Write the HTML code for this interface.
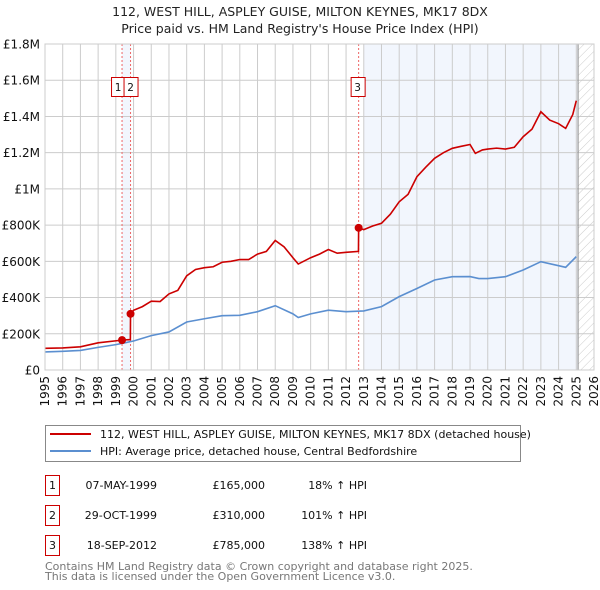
<!DOCTYPE html>
<html><head><meta charset="utf-8"><style>
body{margin:0;background:#fff;font-family:"DejaVu Sans","Liberation Sans",sans-serif;}
svg{display:block}
</style></head><body>
<svg id="c" width="600" height="590" xmlns="http://www.w3.org/2000/svg" font-family="DejaVu Sans, Liberation Sans, sans-serif">
<text x="300" y="16" text-anchor="middle" font-size="12.5" fill="#222">112, WEST HILL, ASPLEY GUISE, MILTON KEYNES, MK17 8DX</text>
<text x="300" y="33" text-anchor="middle" font-size="12.5" fill="#222">Price paid vs. HM Land Registry's House Price Index (HPI)</text>
<defs><pattern id="hatch" width="6" height="6" patternUnits="userSpaceOnUse" patternTransform="rotate(45)"><line x1="0" y1="0" x2="0" y2="6" stroke="#ccc" stroke-width="1"/></pattern></defs>
<g id="plot"></g>
<g>
<rect x="45.5" y="425.5" width="475" height="36" fill="#fff" stroke="#888"/>
<line x1="50" y1="434" x2="91" y2="434" stroke="#cc0000" stroke-width="2"/>
<text x="100" y="438" font-size="11" fill="#111">112, WEST HILL, ASPLEY GUISE, MILTON KEYNES, MK17 8DX (detached house)</text>
<line x1="50" y1="451" x2="91" y2="451" stroke="#5b8fd0" stroke-width="2"/>
<text x="100" y="455" font-size="11" fill="#111">HPI: Average price, detached house, Central Bedfordshire</text>
</g>
<g font-size="11" fill="#111">
<rect x="45.5" y="475.5" width="14" height="20" fill="none" stroke="#cc0000"/><text x="52.5" y="489" text-anchor="middle">1</text>
<text x="157" y="489" text-anchor="end">07-MAY-1999</text><text x="265" y="489" text-anchor="end">£165,000</text><text x="367" y="489" text-anchor="end">18% ↑ HPI</text>
<rect x="45.5" y="505.5" width="14" height="20" fill="none" stroke="#cc0000"/><text x="52.5" y="519" text-anchor="middle">2</text>
<text x="157" y="519" text-anchor="end">29-OCT-1999</text><text x="265" y="519" text-anchor="end">£310,000</text><text x="367" y="519" text-anchor="end">101% ↑ HPI</text>
<rect x="45.5" y="535.5" width="14" height="20" fill="none" stroke="#cc0000"/><text x="52.5" y="549" text-anchor="middle">3</text>
<text x="157" y="549" text-anchor="end">18-SEP-2012</text><text x="265" y="549" text-anchor="end">£785,000</text><text x="367" y="549" text-anchor="end">138% ↑ HPI</text>
</g>
<text x="45" y="570" font-size="11" fill="#777">Contains HM Land Registry data © Crown copyright and database right 2025.</text>
<text x="45" y="580" font-size="11" fill="#777">This data is licensed under the Open Government Licence v3.0.</text>
</svg>
<script>
const yTicks=[0,200000,400000,600000,800000,1000000,1200000,1400000,1600000,1800000];
const yTickLabels=["£0","£200K","£400K","£600K","£800K","£1M","£1.2M","£1.4M","£1.6M","£1.8M"];
const xYears=[1995,1996,1997,1998,1999,2000,2001,2002,2003,2004,2005,2006,2007,2008,2009,2010,2011,2012,2013,2014,2015,2016,2017,2018,2019,2020,2021,2022,2023,2024,2025,2026];
const priceT=[1995,1996,1997,1998,1999.35,1999.82,1999.83,2000,2000.5,2001,2001.5,2002,2002.5,2003,2003.5,2004,2004.5,2005,2005.5,2006,2006.5,2007,2007.5,2008,2008.5,2009,2009.3,2010,2010.5,2011,2011.5,2012,2012.7,2012.71,2013,2013.5,2014,2014.5,2015,2015.5,2016,2016.5,2017,2017.5,2018,2018.5,2019,2019.3,2019.7,2020,2020.5,2021,2021.5,2022,2022.5,2023,2023.5,2024,2024.4,2024.8,2025];
const priceV=[120000,122000,128000,150000,165000,168000,310000,330000,350000,380000,378000,420000,440000,520000,555000,565000,570000,595000,600000,610000,610000,640000,655000,715000,680000,620000,585000,620000,640000,665000,645000,650000,655000,785000,775000,795000,810000,860000,929000,970000,1067000,1120000,1169000,1200000,1224000,1235000,1245000,1196000,1215000,1220000,1225000,1220000,1230000,1288000,1330000,1426000,1380000,1360000,1334000,1410000,1487000];
const hpiT=[1995,1996,1997,1998,1999,2000,2001,2002,2003,2004,2005,2006,2007,2008,2009,2009.3,2010,2011,2012,2013,2014,2015,2016,2017,2018,2019,2019.5,2020,2021,2022,2023,2024,2024.4,2025];
const hpiV=[100000,103000,108000,125000,140000,160000,190000,210000,265000,283000,300000,302000,322000,355000,310000,290000,310000,330000,322000,326000,350000,405000,450000,497000,515000,516000,505000,505000,515000,552000,598000,576000,567000,626000];
const saleT=[1999.35,1999.83,2012.71];
const saleV=[165000,310000,785000];
const saleLabels=["1","2","3"];

const X0=45,X1=594,Y0=370,Y1=44;
const xs=t=>X0+(t-1995)/(2026-1995)*(X1-X0);
const ys=v=>Y0-v/1800000*(Y0-Y1);
const NS="http://www.w3.org/2000/svg";
const g=document.getElementById('plot');
function mk(tag,attrs,parent){const e=document.createElementNS(NS,tag);for(const k in attrs)e.setAttribute(k,attrs[k]);(parent||g).appendChild(e);return e;}

let r=mk('rect',{x:xs(1999.35),y:Y1,width:xs(1999.83)-xs(1999.35),height:Y0-Y1,fill:'#f2f6fd'});


r=mk('rect',{x:xs(2013),y:Y1,width:xs(2025.1)-xs(2013),height:Y0-Y1,fill:'#f2f6fd'});


r=mk('rect',{x:xs(2025.1),y:Y1,width:X1-xs(2025.1),height:Y0-Y1,fill:'url(#hatch)'});



yTicks.forEach((v,i)=>{
  const l=mk('line',{x1:X0,x2:X1,y1:ys(v),y2:ys(v),stroke:'#ccc'});
  
  
  const t=mk('text',{x:40,y:ys(v)+4.5,'text-anchor':'end','font-size':'12',fill:'#111'});
  t.textContent=yTickLabels[i];
  
  
});
xYears.forEach(yv=>{
  const l=mk('line',{x1:xs(yv),x2:xs(yv),y1:Y1,y2:Y0,stroke:'#ccc'});
  
  
  const t=mk('text',{x:0,y:0,'text-anchor':'end','font-size':'12',fill:'#111',transform:`translate(${xs(yv)+4},${Y0+6}) rotate(-90)`});
  t.textContent=yv;
  
  
});
const vl=mk('line',{x1:xs(2025.1),x2:xs(2025.1),y1:Y1,y2:Y0,stroke:'#888','stroke-width':1});



saleT.forEach((t,i)=>{
  const l=mk('line',{x1:xs(t),x2:xs(t),y1:Y1,y2:Y0,stroke:'#ee6666','stroke-dasharray':'2,2'});
  
  
});

const hp=mk('polyline',{points:hpiT.map((t,i)=>xs(t)+','+ys(hpiV[i])).join(' '),fill:'none',stroke:'#5b8fd0','stroke-width':1.6});


const pp=mk('polyline',{points:priceT.map((t,i)=>xs(t)+','+ys(priceV[i])).join(' '),fill:'none',stroke:'#cc0000','stroke-width':1.6});



saleT.forEach((t,i)=>{
  const c=mk('circle',{cx:xs(t),cy:ys(saleV[i]),r:4,fill:'#cc0000'});
  
  
  const b=mk('rect',{x:(i===0?xs(t)-11:i===1?xs(t)-7:xs(t)-8)+0.5,y:77.5,width:14,height:19,fill:'#fff',stroke:'#cc0000'});
  
  
  const tx=mk('text',{x:(i===0?xs(t)-4:i===1?xs(t):xs(t)-1),y:91,'text-anchor':'middle','font-size':'10.5',fill:'#111'});
  tx.textContent=saleLabels[i];
  
  
});
const bd=mk('rect',{x:X0,y:Y1,width:X1-X0,height:Y0-Y1,fill:'none',stroke:'#ccc'});


</script>
</body></html>
